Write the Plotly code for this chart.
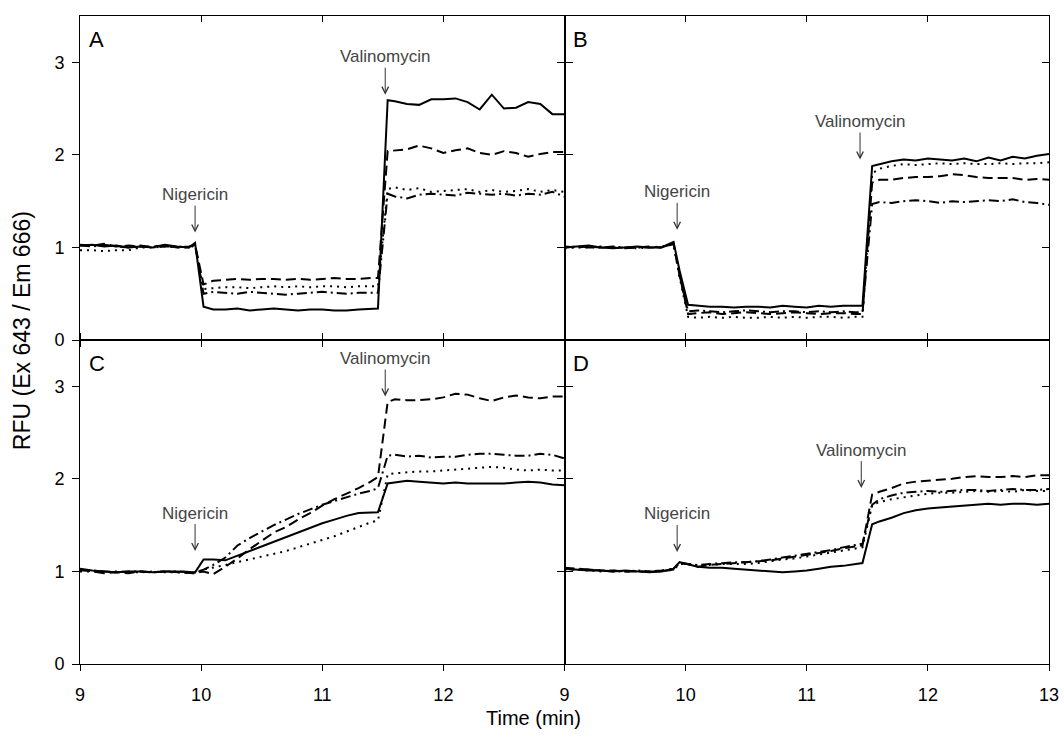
import plotly.graph_objects as go
from plotly.subplots import make_subplots

# Time grid (min)
time_min = [9.0, 9.1, 9.2, 9.3, 9.4, 9.5, 9.6, 9.7, 9.8, 9.9, 9.95,
            10.02, 10.1, 10.2, 10.3, 10.4, 10.5, 10.6, 10.7, 10.8, 10.9, 11.0, 11.1, 11.2, 11.3, 11.4, 11.46,
            11.54, 11.6, 11.7, 11.8, 11.9, 12.0, 12.1, 12.2, 12.3, 12.4, 12.5, 12.6, 12.7, 12.8, 12.9, 13.0]

# Panel A
A_solid = [1.02, 1.03, 1.01, 1.02, 1.00, 1.01, 1.00, 1.03, 1.01, 1.00, 1.05,
           0.36, 0.33, 0.33, 0.34, 0.32, 0.33, 0.34, 0.33, 0.32, 0.33, 0.33, 0.32, 0.32, 0.33, 0.34, 0.34,
           2.59, 2.58, 2.55, 2.54, 2.60, 2.60, 2.61, 2.57, 2.49, 2.65, 2.50, 2.51, 2.57, 2.55, 2.44, 2.44]
A_dash = [1.03, 1.02, 1.04, 1.01, 1.02, 1.01, 1.01, 1.02, 1.00, 1.01, 1.03,
          0.60, 0.64, 0.65, 0.66, 0.65, 0.66, 0.66, 0.65, 0.66, 0.65, 0.66, 0.67, 0.66, 0.66, 0.67, 0.67,
          2.04, 2.05, 2.06, 2.10, 2.07, 2.02, 2.05, 2.07, 2.02, 2.00, 2.04, 2.02, 1.98, 2.01, 2.03, 2.03]
A_dot = [0.97, 0.97, 0.96, 0.97, 0.97, 1.00, 1.00, 1.01, 1.00, 1.00, 1.02,
         0.55, 0.56, 0.57, 0.57, 0.56, 0.57, 0.58, 0.57, 0.58, 0.57, 0.58, 0.58, 0.57, 0.58, 0.58, 0.58,
         1.63, 1.65, 1.62, 1.64, 1.60, 1.61, 1.62, 1.63, 1.60, 1.62, 1.60, 1.61, 1.63, 1.60, 1.62, 1.60]
A_dashdot = [1.02, 1.01, 1.03, 1.01, 1.00, 1.02, 1.00, 1.01, 1.01, 1.00, 1.03,
             0.50, 0.52, 0.51, 0.50, 0.52, 0.51, 0.50, 0.49, 0.50, 0.51, 0.52, 0.51, 0.50, 0.51, 0.51, 0.51,
             1.58, 1.55, 1.53, 1.57, 1.58, 1.57, 1.56, 1.59, 1.58, 1.57, 1.58, 1.56, 1.58, 1.57, 1.60, 1.55]

# Panel B
B_solid = [1.00, 1.01, 1.02, 1.00, 0.99, 1.00, 1.01, 1.00, 1.00, 1.06, 0.75,
           0.38, 0.37, 0.36, 0.36, 0.35, 0.36, 0.36, 0.35, 0.37, 0.36, 0.35, 0.37, 0.36, 0.37, 0.37, 0.37,
           1.88, 1.90, 1.93, 1.95, 1.94, 1.96, 1.95, 1.94, 1.96, 1.93, 1.97, 1.94, 1.98, 1.96, 1.99, 2.01]
B_dash = [1.01, 1.00, 1.01, 1.00, 1.00, 0.99, 1.00, 1.01, 1.00, 1.04, 0.70,
          0.28, 0.29, 0.30, 0.28, 0.29, 0.30, 0.29, 0.28, 0.29, 0.30, 0.29, 0.28, 0.29, 0.29, 0.28, 0.28,
          1.70, 1.73, 1.73, 1.75, 1.76, 1.76, 1.77, 1.79, 1.78, 1.76, 1.75, 1.75, 1.75, 1.73, 1.74, 1.73]
B_dot = [0.99, 1.00, 1.00, 1.01, 1.00, 1.00, 0.99, 1.00, 1.01, 1.03, 0.68,
         0.25, 0.24, 0.25, 0.24, 0.25, 0.24, 0.24, 0.25, 0.24, 0.25, 0.24, 0.25, 0.25, 0.24, 0.25, 0.25,
         1.80, 1.85, 1.88, 1.90, 1.89, 1.90, 1.91, 1.90, 1.91, 1.90, 1.90, 1.91, 1.90, 1.91, 1.91, 1.92]
B_dashdot = [1.00, 1.01, 1.00, 1.00, 1.01, 1.00, 1.00, 1.00, 1.00, 1.04, 0.70,
             0.31, 0.32, 0.31, 0.30, 0.31, 0.32, 0.31, 0.30, 0.31, 0.31, 0.30, 0.31, 0.30, 0.31, 0.30, 0.30,
             1.47, 1.49, 1.48, 1.50, 1.51, 1.50, 1.48, 1.50, 1.49, 1.50, 1.51, 1.50, 1.52, 1.49, 1.48, 1.46]

# Panel C
C_solid = [1.03, 1.01, 1.00, 0.99, 1.00, 1.00, 0.99, 1.00, 1.00, 0.99, 0.99,
           1.13, 1.13, 1.12, 1.17, 1.22, 1.27, 1.32, 1.37, 1.42, 1.47, 1.52, 1.56, 1.60, 1.63, 1.64, 1.64,
           1.95, 1.96, 1.98, 1.97, 1.96, 1.95, 1.96, 1.95, 1.95, 1.95, 1.95, 1.96, 1.97, 1.96, 1.94, 1.93]
C_dash = [1.02, 1.00, 0.98, 0.99, 0.98, 1.00, 0.99, 1.00, 0.99, 0.98, 0.98,
          1.00, 0.97, 1.05, 1.14, 1.24, 1.33, 1.42, 1.48, 1.56, 1.63, 1.71, 1.78, 1.84, 1.90, 1.97, 2.02,
          2.83, 2.86, 2.85, 2.85, 2.86, 2.88, 2.92, 2.91, 2.87, 2.84, 2.88, 2.90, 2.88, 2.87, 2.89, 2.89]
C_dot = [1.00, 1.00, 0.99, 1.00, 0.99, 0.99, 1.00, 0.99, 0.99, 0.98, 0.98,
         1.02, 1.04, 1.07, 1.10, 1.13, 1.16, 1.19, 1.22, 1.26, 1.30, 1.34, 1.38, 1.43, 1.48, 1.53, 1.55,
         2.05, 2.06, 2.07, 2.08, 2.08, 2.09, 2.10, 2.11, 2.12, 2.13, 2.12, 2.10, 2.09, 2.10, 2.09, 2.09]
C_dashdot = [1.01, 1.01, 1.00, 0.99, 1.00, 1.00, 0.99, 1.00, 1.00, 0.99, 0.99,
             1.02, 1.07, 1.15, 1.28, 1.36, 1.43, 1.50, 1.56, 1.62, 1.67, 1.72, 1.76, 1.80, 1.84, 1.87, 1.90,
             2.25, 2.26, 2.24, 2.25, 2.23, 2.24, 2.24, 2.26, 2.27, 2.27, 2.26, 2.25, 2.25, 2.27, 2.26, 2.22]

# Panel D
D_solid = [1.03, 1.02, 1.01, 1.01, 1.00, 1.01, 1.00, 0.99, 1.00, 1.03, 1.10,
           1.08, 1.05, 1.04, 1.04, 1.03, 1.02, 1.01, 1.00, 0.99, 1.00, 1.01, 1.03, 1.05, 1.06, 1.08, 1.09,
           1.51, 1.54, 1.58, 1.63, 1.66, 1.68, 1.69, 1.70, 1.71, 1.72, 1.73, 1.72, 1.73, 1.73, 1.72, 1.73]
D_dash = [1.04, 1.03, 1.02, 1.01, 1.01, 1.00, 1.00, 1.00, 1.01, 1.03, 1.09,
          1.08, 1.05, 1.07, 1.08, 1.09, 1.10, 1.11, 1.12, 1.14, 1.16, 1.18, 1.20, 1.22, 1.25, 1.27, 1.28,
          1.83, 1.86, 1.90, 1.95, 1.97, 1.98, 1.99, 2.00, 2.02, 2.03, 2.02, 2.02, 2.03, 2.02, 2.04, 2.04]
D_dot = [1.02, 1.02, 1.01, 1.00, 1.01, 1.00, 1.00, 1.00, 1.00, 1.02, 1.08,
         1.08, 1.06, 1.07, 1.08, 1.08, 1.08, 1.09, 1.11, 1.13, 1.14, 1.16, 1.18, 1.20, 1.22, 1.24, 1.26,
         1.72, 1.75, 1.78, 1.80, 1.82, 1.84, 1.85, 1.85, 1.86, 1.87, 1.86, 1.87, 1.86, 1.88, 1.87, 1.87]
D_dashdot = [1.03, 1.02, 1.02, 1.01, 1.00, 1.00, 1.01, 1.00, 1.00, 1.02, 1.09,
             1.08, 1.07, 1.08, 1.09, 1.10, 1.10, 1.11, 1.13, 1.15, 1.17, 1.19, 1.21, 1.23, 1.26, 1.28, 1.30,
             1.72, 1.78, 1.82, 1.85, 1.86, 1.87, 1.86, 1.87, 1.88, 1.88, 1.87, 1.88, 1.89, 1.88, 1.88, 1.89]

panel_labels = ["A", "B", "C", "D"]
x_ticks_left = [9, 10, 11, 12]
x_ticks_right = [9, 10, 11, 12, 13]
y_ticks = [0, 1, 2, 3]
# arrow tip positions (time, RFU) for the additions
nigericin_pts = [(9.95, 1.16), (9.93, 1.19), (9.95, 1.22), (9.93, 1.21)]
valinomycin_pts = [(11.52, 2.65), (11.44, 1.95), (11.52, 2.89), (11.45, 1.90)]

panels = [
    [A_solid, A_dash, A_dot, A_dashdot],
    [B_solid, B_dash, B_dot, B_dashdot],
    [C_solid, C_dash, C_dot, C_dashdot],
    [D_solid, D_dash, D_dot, D_dashdot],
]
dash_styles = ["solid", "10px,5px", "2px,5px", "10px,4px,2px,4px"]
positions = [(1, 1), (1, 2), (2, 1), (2, 2)]

FONT = "Liberation Sans, Arial, sans-serif"
TICKFONT = dict(family=FONT, size=18, color="black")

fig = make_subplots(rows=2, cols=2, horizontal_spacing=0, vertical_spacing=0)

for (r, c), series in zip(positions, panels):
    for vals, dsh in zip(series, dash_styles):
        fig.add_trace(go.Scatter(x=time_min, y=vals, mode="lines",
                                 line=dict(color="black", width=2, dash=dsh),
                                 showlegend=False, hoverinfo="skip"), row=r, col=c)

for (r, c) in positions:
    left = (c == 1)
    bottom = (r == 2)
    fig.update_xaxes(range=[9, 13], tickvals=x_ticks_left if left else x_ticks_right,
                     showticklabels=bottom, ticks="outside", ticklen=6, tickcolor="black",
                     showline=True, linecolor="black", linewidth=1,
                     mirror="ticks" if bottom else True,
                     showgrid=False, zeroline=False, ticklabelstandoff=8, automargin=False,
                     ticklabeloverflow="allow",
                     tickfont=TICKFONT, row=r, col=c)
    fig.update_yaxes(range=[0, 3.5], tickvals=y_ticks, showticklabels=left,
                     ticks="outside", ticklen=7, tickcolor="black",
                     showline=True, linecolor="black", linewidth=1,
                     mirror="ticks" if left else True,
                     showgrid=False, zeroline=False, ticklabelstandoff=4, automargin=False,
                     tickfont=TICKFONT, row=r, col=c)

# extra tick-only axes: inward ticks on the top edge and on the right edge
common = dict(showline=False, showgrid=False, zeroline=False, showticklabels=False,
              ticks="inside", tickcolor="black", automargin=False)
fig.update_layout(
    xaxis5=dict(overlaying="x", anchor="y", side="top", range=[9, 13], tickvals=x_ticks_left,
                ticklen=6, **common),
    xaxis6=dict(overlaying="x2", anchor="y2", side="top", range=[9, 13], tickvals=x_ticks_right,
                ticklen=6, **common),
    yaxis5=dict(overlaying="y2", anchor="x2", side="right", range=[0, 3.5], tickvals=y_ticks,
                ticklen=7, **common),
    yaxis6=dict(overlaying="y4", anchor="x4", side="right", range=[0, 3.5], tickvals=y_ticks,
                ticklen=7, **common),
)
for xa, ya in [("x5", "y"), ("x6", "y2"), ("x2", "y5"), ("x4", "y6")]:
    fig.add_trace(go.Scatter(x=[], y=[], xaxis=xa, yaxis=ya, mode="lines",
                             showlegend=False, hoverinfo="skip"))

axis_names = ["", "2", "3", "4"]
for i, sfx in enumerate(axis_names):
    xr = "x" + sfx
    yr = "y" + sfx
    fig.add_annotation(text=panel_labels[i], xref=xr + " domain", yref=yr + " domain",
                       x=0.014, y=0.928, xanchor="left", yanchor="middle", showarrow=False,
                       font=dict(family=FONT, size=22, color="black"))
    nx, ny = nigericin_pts[i]
    fig.add_annotation(text="Nigericin", xref=xr, yref=yr, x=nx, y=ny, ax=0, ay=-38,
                       showarrow=True, arrowhead=5, arrowsize=1.3, arrowwidth=1, arrowcolor="#333333",
                       font=dict(family=FONT, size=17, color="#444444"))
    vx, vy = valinomycin_pts[i]
    fig.add_annotation(text="Valinomycin", xref=xr, yref=yr, x=vx, y=vy, ax=0, ay=-38,
                       showarrow=True, arrowhead=5, arrowsize=1.3, arrowwidth=1, arrowcolor="#333333",
                       font=dict(family=FONT, size=17, color="#444444"))

fig.add_annotation(text="Time (min)", xref="paper", yref="paper", x=0.4675, y=-0.083,
                   xanchor="center", yanchor="middle", showarrow=False,
                   font=dict(family=FONT, size=20, color="black"))
fig.add_annotation(text="RFU (Ex 643 / Em 666)", xref="paper", yref="paper", x=-0.06, y=0.515,
                   xanchor="center", yanchor="middle", showarrow=False, textangle=-90,
                   font=dict(family=FONT, size=23, color="black"))

fig.update_layout(width=1064, height=738, margin=dict(l=80, r=15, t=16, b=74, autoexpand=False),
                  plot_bgcolor="white", paper_bgcolor="white",
                  font=dict(family=FONT, color="black"))

# remove the default 8px page margin so the figure fills the window exactly
fig.write_html("out.html", config={"displayModeBar": False},
               post_script="document.body.style.margin='0';document.body.style.overflow='hidden';")
